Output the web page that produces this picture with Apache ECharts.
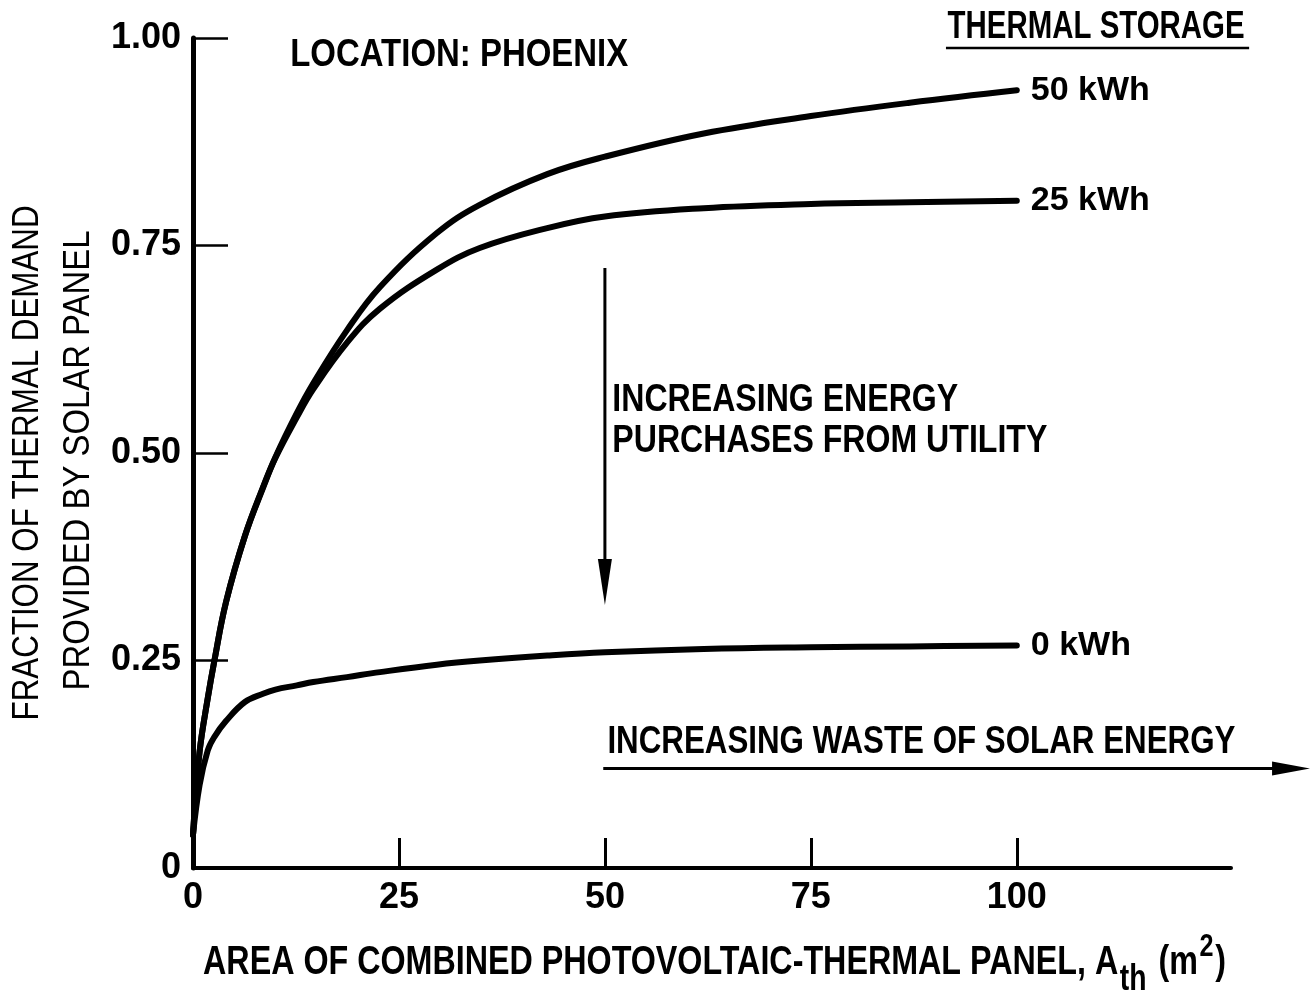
<!DOCTYPE html>
<html>
<head>
<meta charset="utf-8">
<script src="https://cdn.jsdelivr.net/npm/echarts@6/dist/echarts.min.js"></script>
<style>
  html, body { margin: 0; padding: 0; background: #fff; }
  #chart { width: 1310px; height: 1001px; }
</style>
</head>
<body>
<div id="chart"></div>
<script>
// Panel area sample points (m^2) shared by all three storage curves
const panelArea = [0, 0.8, 1.8, 2.6, 4, 6.3, 8.5, 10, 12.6, 14.6, 18.7, 22.7, 29.6, 34.8, 43, 50, 62, 75, 87, 100];

// Fraction of thermal demand supplied, per thermal storage size
const storage50 = [0.04, 0.14, 0.205, 0.25, 0.32, 0.40, 0.459, 0.495, 0.548, 0.584, 0.648, 0.700, 0.765, 0.799, 0.836, 0.857, 0.885, 0.906, 0.922, 0.937];
const storage25 = [0.04, 0.14, 0.205, 0.25, 0.32, 0.40, 0.458, 0.494, 0.543, 0.577, 0.633, 0.674, 0.721, 0.747, 0.771, 0.785, 0.795, 0.800, 0.802, 0.804];
const storage0  = [0.04, 0.10, 0.142, 0.158, 0.177, 0.20, 0.21, 0.215, 0.22, 0.224, 0.23, 0.236, 0.245, 0.25, 0.256, 0.26, 0.264, 0.266, 0.267, 0.268];

const seriesNames = ['50 kWh', '25 kWh', '0 kWh'];
const xTickValues = [0, 25, 50, 75, 100];
const yTickValues = [0, 0.25, 0.5, 0.75, 1];

const FONT = '"Liberation Sans", Arial, sans-serif';
const INK = '#000';

const pairs = (xs, ys) => xs.map((x, i) => [x, ys[i]]);

// Canvas used to measure text so narrow lettering can be squeezed to width
const measureCtx = document.createElement('canvas').getContext('2d');
function textWidth(str, weight, size) {
  measureCtx.font = weight + ' ' + size + 'px ' + FONT;
  return measureCtx.measureText(str).width;
}

const chart = echarts.init(document.getElementById('chart'), null, { renderer: 'canvas' });

const curve = (name, values) => ({
  name: name,
  type: 'line',
  data: pairs(panelArea, values),
  smooth: 0.4,
  showSymbol: false,
  symbol: 'none',
  clip: false,
  lineStyle: { color: INK, width: 6, cap: 'round', join: 'round' },
  endLabel: {
    show: true,
    formatter: '{a}',
    distance: 14,
    fontFamily: FONT,
    fontWeight: 'bold',
    fontSize: 34,
    color: INK
  },
  animation: false
});

const option = {
  backgroundColor: '#fff',
  animation: false,
  grid: { left: 193, top: 38, width: 1038, height: 830, outerBoundsMode: 'none' },
  xAxis: {
    type: 'value',
    min: 0,
    max: 126,
    interval: 25,
    splitLine: { show: false },
    axisLine: { show: true, lineStyle: { color: INK, width: 4 } },
    axisTick: { show: true, inside: true, length: 30, lineStyle: { color: INK, width: 3 }, customValues: [25, 50, 75, 100] },
    axisLabel: {
      customValues: xTickValues,
      margin: 12,
      fontFamily: FONT, fontWeight: 'bold', fontSize: 36, color: INK
    }
  },
  yAxis: {
    type: 'value',
    min: 0,
    max: 1,
    interval: 0.25,
    splitLine: { show: false },
    axisLine: { show: true, lineStyle: { color: INK, width: 5 } },
    axisTick: { show: true, inside: true, length: 35, lineStyle: { color: INK, width: 2.5 }, customValues: [0.25, 0.5, 0.75, 1] },
    axisLabel: {
      customValues: yTickValues,
      margin: 12,
      formatter: v => (v === 0 ? '0' : v.toFixed(2)),
      fontFamily: FONT, fontWeight: 'bold', fontSize: 36, color: INK
    }
  },
  series: [
    curve(seriesNames[0], storage50),
    curve(seriesNames[1], storage25),
    curve(seriesNames[2], storage0)
  ]
};

chart.setOption(option);

// Annotations placed in data space so they follow the axes
const P = (x, y) => chart.convertToPixel({ gridIndex: 0 }, [x, y]);

// Text squeezed horizontally to a given width (narrow lettering)
function narrowText(text, at, width, size, opts) {
  opts = opts || {};
  const weight = opts.weight || 'bold';
  const s = opts.scale || width / textWidth(text, weight, size);
  return {
    type: 'text',
    x: at[0], y: at[1],
    scaleX: s,
    rotation: opts.rotation || 0,
    style: {
      text: text,
      fontFamily: FONT, fontWeight: weight, fontSize: size, fill: INK,
      textAlign: opts.align || 'left',
      textVerticalAlign: 'middle'
    }
  };
}

const vTop = P(50, 0.723), vTip = P(50, 0.317);
const hStart = P(49.8, 0.12), hTip = P(135.6, 0.12);
const storeLineL = P(91.4, 0.988), storeLineR = P(128.2, 0.988);

// Axis titles
const yTitle1 = 'FRACTION OF THERMAL DEMAND';
const yTitle2 = 'PROVIDED BY SOLAR PANEL';
const xTitleMain = 'AREA OF COMBINED PHOTOVOLTAIC-THERMAL PANEL, A';
const xTitleSize = 41, xSubSize = 36, xSupSize = 32;
const xTitleRaw = textWidth(xTitleMain, 'bold', xTitleSize) + textWidth('th', 'bold', xSubSize)
  + textWidth(' (m)', 'bold', xTitleSize) + textWidth('2', 'bold', xSupSize);
const xTitleScale = 1015 / xTitleRaw;
const xTitleAt = P(63.3, -0.114);

const purchScale = 435 / textWidth('PURCHASES FROM UTILITY', 'bold', 38);

chart.setOption({
  graphic: [
    narrowText('LOCATION: PHOENIX', P(11.8, 0.979), 338, 38),
    narrowText('THERMAL STORAGE', P(91.6, 1.013), 297, 38),
    { type: 'line', shape: { x1: storeLineL[0], y1: storeLineL[1], x2: storeLineR[0], y2: storeLineR[1] }, style: { stroke: INK, lineWidth: 2.5 } },

    // downward arrow: growing purchases from the utility
    { type: 'line', shape: { x1: vTop[0], y1: vTop[1], x2: vTip[0], y2: vTip[1] - 30 }, style: { stroke: INK, lineWidth: 3 } },
    { type: 'polygon', shape: { points: [[vTip[0] - 7, vTip[1] - 46], [vTip[0] + 7, vTip[1] - 46], [vTip[0], vTip[1]]] }, style: { fill: INK } },
    narrowText('INCREASING ENERGY', P(50.9, 0.563), 0, 38, { scale: purchScale }),
    narrowText('PURCHASES FROM UTILITY', P(50.9, 0.514), 0, 38, { scale: purchScale }),

    // rightward arrow: growing waste of solar energy
    narrowText('INCREASING WASTE OF SOLAR ENERGY', P(50.3, 0.151), 628, 38),
    { type: 'line', shape: { x1: hStart[0], y1: hStart[1], x2: hTip[0] - 30, y2: hTip[1] }, style: { stroke: INK, lineWidth: 3 } },
    { type: 'polygon', shape: { points: [[hTip[0] - 38, hTip[1] - 7], [hTip[0] - 38, hTip[1] + 7], [hTip[0], hTip[1]]] }, style: { fill: INK } },

    // y-axis title, two rotated lines
    narrowText(yTitle1, P(-20.0, 0.488), 515, 37, { weight: 'normal', align: 'center', rotation: Math.PI / 2 }),
    narrowText(yTitle2, P(-13.9, 0.491), 460, 37, { weight: 'normal', align: 'center', rotation: Math.PI / 2 }),

    // x-axis title with subscript and superscript
    {
      type: 'text',
      x: xTitleAt[0], y: xTitleAt[1],
      scaleX: xTitleScale,
      style: {
        text: '{t|' + xTitleMain + '}{sub|th}{t| (m}{sup|2}{t|)}',
        textAlign: 'center',
        textVerticalAlign: 'middle',
        rich: {
          t:   { fontFamily: FONT, fontWeight: 'bold', fontSize: xTitleSize, fill: INK, lineHeight: 70, verticalAlign: 'middle' },
          sub: { fontFamily: FONT, fontWeight: 'bold', fontSize: xSubSize, fill: INK, lineHeight: 70, verticalAlign: 'bottom', padding: [0, 4, 0, 2] },
          sup: { fontFamily: FONT, fontWeight: 'bold', fontSize: xSupSize, fill: INK, lineHeight: 70, verticalAlign: 'top', padding: [4, 2, 0, 2] }
        }
      }
    }
  ]
});
</script>
</body>
</html>
